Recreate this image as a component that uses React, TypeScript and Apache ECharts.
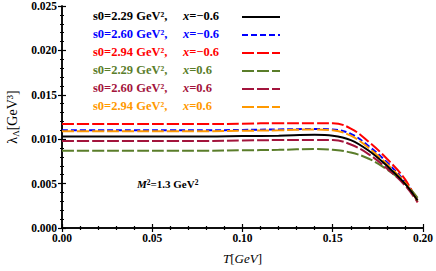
import React, { useEffect, useRef } from "react";
import * as echarts from "echarts";

const temps = [0, 0.02, 0.04, 0.06, 0.08, 0.1, 0.12, 0.14, 0.15, 0.16, 0.17, 0.18, 0.19, 0.197];
const s229m = [0.0103, 0.0103, 0.0103, 0.0103, 0.0103, 0.01035, 0.0104, 0.0105, 0.0104, 0.0099, 0.0087, 0.0070, 0.0050, 0.0031];
const s260m = [0.0110, 0.0110, 0.0110, 0.0110, 0.0110, 0.01105, 0.0111, 0.01115, 0.0111, 0.0106, 0.0092, 0.0074, 0.0052, 0.0031];
const s294m = [0.0117, 0.0117, 0.0117, 0.0117, 0.0117, 0.01175, 0.0118, 0.0118, 0.0118, 0.0112, 0.0097, 0.0078, 0.0055, 0.0029];
const s229p = [0.0087, 0.0087, 0.0087, 0.0087, 0.0087, 0.00875, 0.0088, 0.0089, 0.0088, 0.0085, 0.0078, 0.0066, 0.0050, 0.0034];
const s260p = [0.0098, 0.0098, 0.0098, 0.0098, 0.0098, 0.00985, 0.0099, 0.0099, 0.0099, 0.0094, 0.0083, 0.0067, 0.0048, 0.0029];
const s294p = [0.0109, 0.0109, 0.0109, 0.0109, 0.0109, 0.01095, 0.0110, 0.0111, 0.0110, 0.0104, 0.0090, 0.0072, 0.0051, 0.0031];

const s0Labels = ["s0=2.29 GeV²,", "s0=2.60 GeV²,", "s0=2.94 GeV²,", "s0=2.29 GeV²,", "s0=2.60 GeV²,", "s0=2.94 GeV²,"];
const xLabels = ["−0.6", "−0.6", "−0.6", "0.6", "0.6", "0.6"];
const colors = ["#000000", "#0000ff", "#ff0000", "#5a7d2a", "#a3143c", "#ff9900"];
const dashes: (number[] | null)[] = [null, [6, 3], [12, 3], [12, 3], [12, 3], [12, 3]];
const seriesData = [s229m, s260m, s294m, s229p, s260p, s294p];

const FONT = "Liberation Serif";

export default function App() {
  const ref = useRef<HTMLDivElement>(null);
  useEffect(() => {
    if (!ref.current) return;
    const chart = echarts.init(ref.current, null, { renderer: "svg" });
    const legend: any[] = [];
    s0Labels.forEach((lab, i) => {
      const y = 17 + i * 18;
      legend.push({
        type: "text", left: 93, top: y - 8, z: 10,
        style: { text: lab, fill: colors[i], font: `bold 12.5px "${FONT}"` },
      });
      legend.push({
        type: "text", left: 183, top: y - 8, z: 10,
        style: {
          text: `{i|x}{n|=${xLabels[i]}}`, fill: colors[i],
          rich: {
            i: { fontFamily: FONT, fontStyle: "italic", fontWeight: "bold", fontSize: 12.5, fill: colors[i] },
            n: { fontFamily: FONT, fontWeight: "bold", fontSize: 12.5, fill: colors[i] },
          },
        },
      });
      legend.push({
        type: "line", z: 10,
        shape: { x1: 242, y1: y, x2: 280, y2: y },
        style: { stroke: colors[i], lineWidth: 2.2, lineDash: dashes[i] || undefined },
      });
    });
    const option: any = {
      animation: false,
      grid: { left: 62, right: 13, top: 6, bottom: 43, outerBoundsMode: "none", containLabel: false },
      xAxis: [
        {
          type: "value", min: 0, max: 0.2, interval: 0.05,
          name: "{i|T}{n|[}{i|GeV}{n|]}", nameLocation: "middle", nameGap: 24,
          nameTextStyle: {
            rich: {
              i: { fontFamily: FONT, fontStyle: "italic", fontSize: 13, color: "#000" },
              n: { fontFamily: FONT, fontSize: 13, color: "#000" },
            },
          },
          axisLine: { lineStyle: { color: "#000", width: 1.5 } },
          axisTick: { inside: true, length: 4, lineStyle: { color: "#000", width: 1.2 } },
          minorTick: { show: true, splitNumber: 5, length: 2, lineStyle: { color: "#000", width: 1.2 } },
          axisLabel: { fontFamily: FONT, fontWeight: "bold", fontSize: 11.5, color: "#000", margin: 4, formatter: (v: number) => v.toFixed(2) },
          splitLine: { show: false },
        },
        {
          type: "value", position: "top", min: 0, max: 0.2, interval: 0.05,
          axisLine: { lineStyle: { color: "#000", width: 1.5 } },
          axisTick: { inside: true, length: 4, lineStyle: { color: "#000", width: 1.2 } },
          minorTick: { show: true, splitNumber: 5, length: 2, lineStyle: { color: "#000", width: 1.2 } },
          axisLabel: { show: false },
          splitLine: { show: false },
        },
      ],
      yAxis: [
        {
          type: "value", min: 0, max: 0.025, interval: 0.005,
          name: "{n|λ}{sub|Λ}{n|[GeV³]}", nameLocation: "middle", nameGap: 41, nameRotate: 90,
          nameTextStyle: {
            rich: {
              n: { fontFamily: FONT, fontSize: 14, color: "#000" },
              sub: { fontFamily: FONT, fontSize: 9, color: "#000", padding: [6, 0, 0, 0] },
            },
          },
          axisLine: { show: true, lineStyle: { color: "#000", width: 1.5 } },
          axisTick: { show: true, inside: true, length: 4, lineStyle: { color: "#000", width: 1.2 } },
          minorTick: { show: true, splitNumber: 5, length: 2, lineStyle: { color: "#000", width: 1.2 } },
          axisLabel: { fontFamily: FONT, fontWeight: "bold", fontSize: 11.5, color: "#000", margin: 5, formatter: (v: number) => v.toFixed(3) },
          splitLine: { show: false },
        },
        {
          type: "value", position: "right", min: 0, max: 0.025, interval: 0.005,
          axisLine: { show: true, lineStyle: { color: "#000", width: 1.5 } },
          axisTick: { show: true, inside: true, length: 4, lineStyle: { color: "#000", width: 1.2 } },
          minorTick: { show: true, splitNumber: 5, length: 2, lineStyle: { color: "#000", width: 1.2 } },
          axisLabel: { show: false },
          splitLine: { show: false },
        },
      ],
      series: seriesData.map((vals, i) => ({
        type: "line",
        smooth: 0.4,
        symbol: "none",
        data: temps.map((t, k) => [t, vals[k]]),
        lineStyle: { color: colors[i], width: 2, type: dashes[i] || "solid" },
        z: i === 0 ? 3 : 2,
      })),
      graphic: [
        ...legend,
        {
          type: "text", left: 137, top: 178,
          style: {
            text: "{i|M}{s|2}{n|=1.3 GeV}{s|2}",
            rich: {
              i: { fontFamily: FONT, fontStyle: "italic", fontWeight: "bold", fontSize: 11, fill: "#000" },
              n: { fontFamily: FONT, fontWeight: "bold", fontSize: 11, fill: "#000" },
              s: { fontFamily: FONT, fontWeight: "bold", fontSize: 7.5, fill: "#000", verticalAlign: "top" },
            },
          },
        },
      ],
    };
    chart.setOption(option);
    return () => chart.dispose();
  }, []);
  return <div ref={ref} style={{ width: 436, height: 271, position: "absolute", left: 0, top: 0 }} />;
}
